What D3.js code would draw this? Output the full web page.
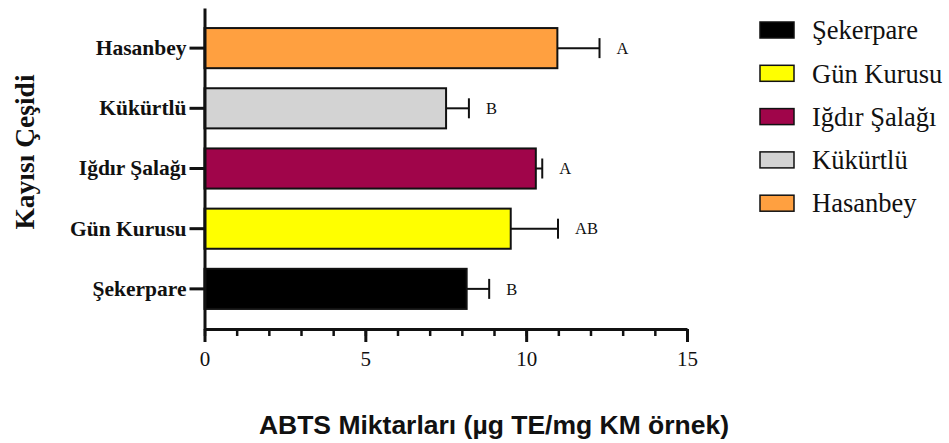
<!DOCTYPE html>
<html>
<head>
<meta charset="utf-8">
<script src="https://cdn.jsdelivr.net/npm/d3@7"></script>
<style>
  html, body { margin: 0; padding: 0; background: #fff; }
  svg { display: block; }
</style>
</head>
<body>
<svg id="chart" width="949" height="443"></svg>
<script>
// Apricot varieties and their ABTS values (mean ± error) with significance letters
const categories = ["Şekerpare", "Gün Kurusu", "Iğdır Şalağı", "Kükürtlü", "Hasanbey"];
const means = [8.15, 9.52, 10.30, 7.51, 10.97];
const errors = [0.70, 1.47, 0.20, 0.71, 1.31];
const letters = ["B", "AB", "A", "B", "A"];
const colors = ["#000000", "#FFFF00", "#A0054A", "#D3D3D3", "#FFA040"];
const xTicks = [0, 5, 10, 15];
const xMinorTicks = d3.range(0, 16, 1);

const SERIF = "'Liberation Serif', 'Times New Roman', serif";
const SANS = "'Liberation Sans', Arial, sans-serif";

const rows = categories.map((c, i) => ({
  name: c, mean: means[i], err: errors[i], letter: letters[i], color: colors[i]
}));

const svg = d3.select("#chart");
const plotLeft = 204.5, plotRight = 687, plotTop = 8, plotBottom = 329;

const x = d3.scaleLinear().domain([0, 15]).range([plotLeft, plotRight]);
const y = d3.scaleBand().domain(categories).range([plotBottom, plotTop])
  .paddingInner(1 / 3).paddingOuter(1 / 3);

// Bars
svg.append("g").selectAll("rect").data(rows).join("rect")
  .attr("x", x(0))
  .attr("y", d => y(d.name))
  .attr("width", d => x(d.mean) - x(0))
  .attr("height", y.bandwidth())
  .attr("fill", d => d.color)
  .attr("stroke", "#111")
  .attr("stroke-width", 2);

// Error bars (positive side only)
const eb = svg.append("g").attr("stroke", "#111").attr("stroke-width", 2);
eb.selectAll("line.whisker").data(rows).join("line")
  .attr("class", "whisker")
  .attr("x1", d => x(d.mean)).attr("x2", d => x(d.mean + d.err))
  .attr("y1", d => y(d.name) + y.bandwidth() / 2)
  .attr("y2", d => y(d.name) + y.bandwidth() / 2);
eb.selectAll("line.cap").data(rows).join("line")
  .attr("class", "cap")
  .attr("x1", d => x(d.mean + d.err)).attr("x2", d => x(d.mean + d.err))
  .attr("y1", d => y(d.name) + y.bandwidth() / 2 - 10)
  .attr("y2", d => y(d.name) + y.bandwidth() / 2 + 10);

// Significance letters
svg.append("g").selectAll("text").data(rows).join("text")
  .attr("x", d => x(d.mean + d.err) + 17)
  .attr("y", d => y(d.name) + y.bandwidth() / 2)
  .attr("dy", "0.35em")
  .attr("font-family", SERIF)
  .attr("font-size", 16.5)
  .attr("fill", "#111")
  .text(d => d.letter);

// X axis: minor ticks every unit, labelled major ticks
const gMinor = svg.append("g").attr("transform", `translate(0,${plotBottom})`)
  .call(d3.axisBottom(x).tickValues(xMinorTicks).tickSize(7).tickFormat(""));
gMinor.select(".domain").remove();
gMinor.selectAll(".tick line").attr("stroke", "#111").attr("stroke-width", 2.5);

const gx = svg.append("g").attr("transform", `translate(0,${plotBottom})`)
  .call(d3.axisBottom(x).tickValues(xTicks).tickSize(13).tickSizeOuter(0).tickPadding(9))
  .attr("font-family", SERIF).attr("font-size", 21);
gx.select(".domain").attr("stroke", "#111").attr("stroke-width", 3);
gx.selectAll(".tick line").attr("stroke", "#111").attr("stroke-width", 3);
gx.selectAll(".tick text").attr("fill", "#111");

// Y axis with category names
const gy = svg.append("g").attr("transform", `translate(${plotLeft},0)`)
  .call(d3.axisLeft(y).tickSize(15).tickSizeOuter(0).tickPadding(3))
  .attr("font-family", SERIF).attr("font-size", 21.5).attr("font-weight", "bold");
gy.select(".domain").attr("stroke", "#111").attr("stroke-width", 3);
gy.selectAll(".tick line").attr("stroke", "#111").attr("stroke-width", 3);
gy.selectAll(".tick text").attr("fill", "#111");

// Axis titles
svg.append("text")
  .attr("transform", `translate(34,152) rotate(-90)`)
  .attr("text-anchor", "middle")
  .attr("font-family", SERIF)
  .attr("font-size", 27.5).attr("font-weight", "bold").attr("fill", "#111")
  .text("Kayısı Çeşidi");

svg.append("text")
  .attr("x", 494).attr("y", 434)
  .attr("text-anchor", "middle")
  .attr("font-family", SANS)
  .attr("font-size", 26.5).attr("font-weight", "bold").attr("fill", "#111")
  .text("ABTS Miktarları (µg TE/mg KM örnek)");

// Legend
const legend = svg.append("g").attr("transform", "translate(760,22)");
const li = legend.selectAll("g").data(rows).join("g")
  .attr("transform", (d, i) => `translate(0,${i * 43.3})`);
li.append("rect")
  .attr("width", 34).attr("height", 16)
  .attr("fill", d => d.color).attr("stroke", "#111").attr("stroke-width", 1.5);
li.append("text")
  .attr("x", 52).attr("y", 8).attr("dy", "0.35em")
  .attr("font-family", SERIF)
  .attr("font-size", 26.5).attr("fill", "#111")
  .text(d => d.name);
</script>
</body>
</html>
